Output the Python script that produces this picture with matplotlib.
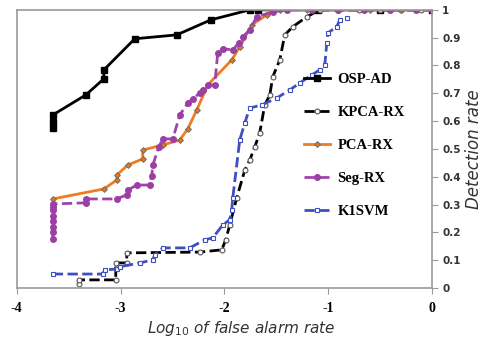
import numpy as np
import matplotlib.pyplot as plt

# log10 false alarm rate (x) and detection rate (y)
osp_x = [-3.653, -3.653, -3.653, -3.335, -3.161, -3.161, -2.863, -2.458, -2.130, -1.754, -1.677, -1.10, -0.5, 0.0]
osp_y = [0.576, 0.597, 0.622, 0.694, 0.752, 0.784, 0.896, 0.910, 0.964, 1.0, 1.0, 1.0, 1.0, 1.0]

kpca_x = [-3.402, -3.402, -3.046, -3.046, -2.940, -2.940, -2.236, -2.024, -1.986, -1.947, -1.880, -1.802,
          -1.754, -1.706, -1.658, -1.610, -1.561, -1.533, -1.465, -1.417, -1.340, -1.205, -1.080,
          -0.9, -0.7, -0.5, -0.3, -0.1, 0.0]
kpca_y = [0.014, 0.029, 0.029, 0.090, 0.090, 0.126, 0.129, 0.137, 0.173, 0.227, 0.324, 0.424,
          0.460, 0.507, 0.558, 0.658, 0.694, 0.759, 0.820, 0.910, 0.939, 0.975, 1.0,
          1.0, 1.0, 1.0, 1.0, 1.0, 1.0]

pca_x = [-3.653, -3.161, -3.036, -3.036, -2.930, -2.786, -2.786, -2.593, -2.429, -2.352, -2.265, -2.159,
         -1.928, -1.851, -1.735, -1.590, -1.465, -1.2, -0.9, -0.6, -0.3, 0.0]
pca_y = [0.320, 0.356, 0.388, 0.406, 0.442, 0.464, 0.496, 0.514, 0.532, 0.572, 0.640, 0.730,
         0.820, 0.867, 0.946, 0.982, 1.0, 1.0, 1.0, 1.0, 1.0, 1.0]

seg_x = [-3.653, -3.653, -3.653, -3.653, -3.653, -3.653, -3.653, -3.653, -3.335, -3.335, -3.036, -2.940,
         -2.930, -2.843, -2.718, -2.699, -2.689, -2.631, -2.593, -2.496, -2.429, -2.352, -2.304, -2.236,
         -2.207, -2.159, -2.092, -2.063, -2.014, -1.918, -1.860, -1.822, -1.754, -1.687, -1.533, -1.398,
         -1.15, -0.9, -0.65, -0.4, -0.15, 0.0]
seg_y = [0.176, 0.20, 0.22, 0.24, 0.26, 0.28, 0.29, 0.302, 0.306, 0.320, 0.320, 0.335,
         0.352, 0.370, 0.370, 0.403, 0.442, 0.507, 0.536, 0.536, 0.622, 0.665, 0.680, 0.701,
         0.712, 0.730, 0.730, 0.845, 0.860, 0.856, 0.881, 0.903, 0.928, 0.975, 0.993, 1.0,
         1.0, 1.0, 1.0, 1.0, 1.0, 1.0]

svm_x = [-3.653, -3.171, -3.152, -3.036, -3.007, -2.814, -2.689, -2.670, -2.593, -2.333, -2.188, -2.111,
         -2.014, -1.947, -1.928, -1.918, -1.851, -1.802, -1.754, -1.639, -1.494, -1.369, -1.272, -1.157,
         -1.080, -1.031, -1.012, -1.002, -0.916, -0.887, -0.819]
svm_y = [0.050, 0.050, 0.065, 0.068, 0.076, 0.090, 0.101, 0.119, 0.144, 0.144, 0.173, 0.180,
         0.227, 0.245, 0.281, 0.324, 0.532, 0.594, 0.647, 0.658, 0.683, 0.712, 0.737, 0.766,
         0.784, 0.802, 0.881, 0.917, 0.939, 0.964, 0.971]

fig = plt.figure(figsize=(4.94, 3.52), dpi=100)
ax = fig.add_axes([0.034, 0.182, 0.84, 0.79])

ax.plot(osp_x, osp_y, '-', color='black', lw=2, marker='s', ms=4.5, label='OSP-AD')
ax.plot(kpca_x, kpca_y, '--', color='black', lw=2, marker='o', ms=3.5,
        mfc='white', mec='#555555', mew=0.8, label='KPCA-RX')
ax.plot(pca_x, pca_y, '-', color='#f07c1e', lw=2, marker='D', ms=3,
        mfc='#e0781e', mec='#666666', mew=0.6, label='PCA-RX')
ax.plot(seg_x, seg_y, '--', color='#a044ac', lw=2, marker='o', ms=4,
        mfc='#9b3fa5', mec='#9b3fa5', label='Seg-RX')
ax.plot(svm_x, svm_y, '--', color='#3e4fc0', lw=2, marker='s', ms=3.5,
        mfc='white', mec='#3e4fc0', mew=0.8, label='K1SVM')

ax.set_xlim(-4, 0)
ax.set_ylim(0, 1)
ax.set_xticks([-4, -3, -2, -1, 0])
ax.set_xticklabels(['-4', '-3', '-2', '-1', '0'], fontfamily='Liberation Serif',
                   fontweight='bold', fontsize=10)
ax.set_yticks(np.arange(0, 1.01, 0.1))
ax.set_yticklabels(['0'] + ['%.1f' % v for v in np.arange(0.1, 0.95, 0.1)] + ['1'],
                   fontweight='bold', fontsize=7.5, color='#333333')
ax.yaxis.tick_right()
ax.tick_params(axis='both', length=4, color='#999999', direction='out')
ax.tick_params(axis='x', pad=6)
for s in ax.spines.values():
    s.set_color('#999999')
    s.set_linewidth(1.2)

ax.yaxis.set_label_position('right')
ax.set_ylabel('Detection rate', fontstyle='italic', fontsize=12, color='#333333', labelpad=3)
ax.set_xlabel(r'$\mathit{Log}_{10}$ $\mathit{of\ false\ alarm\ rate}$', fontsize=11,
              color='#333333')
ax.xaxis.set_label_coords(0.54, -0.11)

leg = ax.legend(loc='upper left', bbox_to_anchor=(0.66, 0.82), frameon=False,
                handlelength=1.8, labelspacing=1.35, handletextpad=0.5,
                prop={'family': 'Liberation Serif', 'weight': 'bold', 'size': 10.5})

fig.savefig('out.png', dpi=100)
